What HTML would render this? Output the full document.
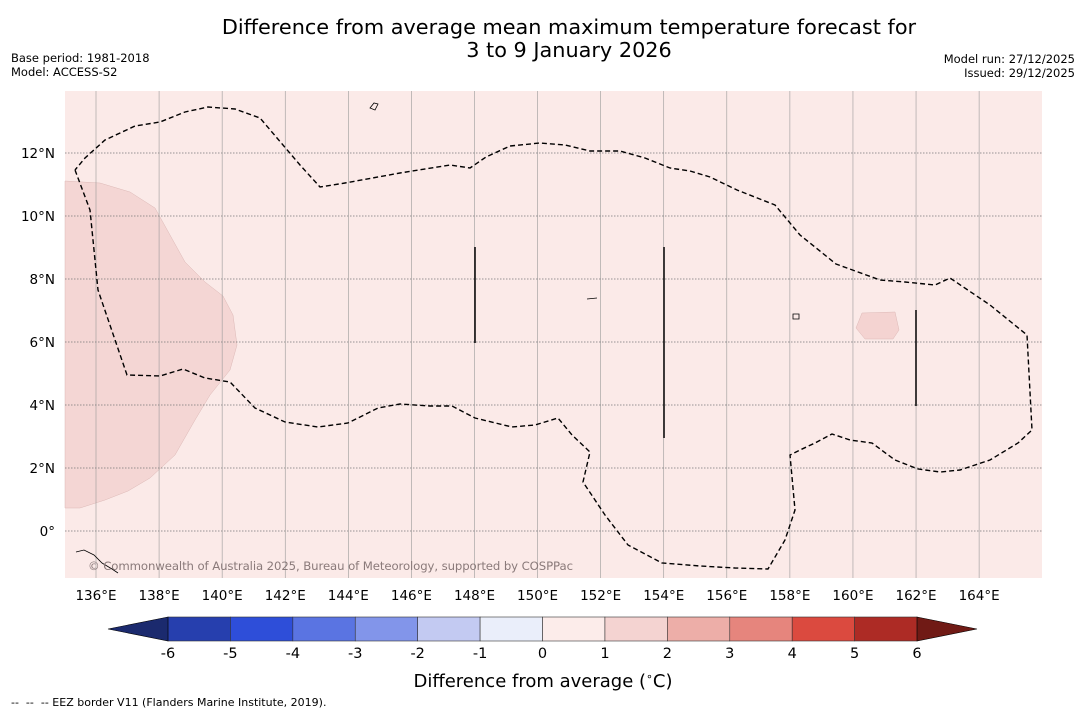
<!DOCTYPE html>
<html><head><meta charset="utf-8"><style>
body{margin:0;background:#fff;font-family:"DejaVu Sans","Liberation Sans",sans-serif;}
svg text{font-family:"DejaVu Sans","Liberation Sans",sans-serif;}
</style></head><body>
<svg id="chart" width="1085" height="713" xmlns="http://www.w3.org/2000/svg">
<text x="569" y="34" font-size="20.8" text-anchor="middle">Difference from average mean maximum temperature forecast for</text>
<text x="569" y="57" font-size="20.8" text-anchor="middle">3 to 9 January 2026</text>
<text x="11" y="62" font-size="11.5">Base period: 1981-2018</text>
<text x="11" y="76" font-size="11.5">Model: ACCESS-S2</text>
<text x="1075" y="63" font-size="11.5" text-anchor="end">Model run: 27/12/2025</text>
<text x="1075" y="77" font-size="11.5" text-anchor="end">Issued: 29/12/2025</text>
<g id="map"></g>
<g id="cbar"></g>
<text x="543" y="687" font-size="18" text-anchor="middle">Difference from average (<tspan font-size="11" dy="-7">∘</tspan><tspan dy="7">C)</tspan></text>
<text x="11" y="706" font-size="11" xml:space="preserve">--  --  -- EEZ border V11 (Flanders Marine Institute, 2019).</text>
</svg>
<script>
const lonTicks=[136,138,140,142,144,146,148,150,152,154,156,158,160,162,164];
const latTicks=[0,2,4,6,8,10,12];
const cbarLevels=[-6,-5,-4,-3,-2,-1,0,1,2,3,4,5,6];
const cbarColors=["#263fae","#2e4ed9","#5a74e2","#8295ea","#c3caf2","#eaeefa","#fcecea","#f4d3d1","#edaea8","#e6857d","#db4a3f","#ad2b25"];
const eezPx=[[75,170],[90,210],[98,290],[127,375],[160,376],[183,369],[205,378],[230,382],[255,408],[285,422],[318,427],[348,423],[378,408],[400,404],[430,406],[452,406],[475,418],[512,427],[535,425],[558,418],[572,435],[590,452],[583,482],[605,515],[628,545],[662,563],[700,566],[735,568],[768,569],[785,540],[795,510],[790,455],[800,450],[815,443],[832,434],[850,440],[872,443],[895,460],[918,469],[940,472],[960,470],[990,460],[1018,443],[1032,430],[1027,335],[990,305],[950,278],[935,285],[905,282],[880,280],[836,264],[800,235],[775,205],[737,190],[710,177],[690,171],[670,168],[645,158],[620,151],[590,151],[565,145],[540,143],[510,146],[486,157],[470,168],[450,165],[400,173],[345,183],[320,187],[300,165],[260,118],[235,109],[208,107],[185,112],[160,122],[135,126],[105,140],[85,158],[75,170]];
const warmPx=[[65,181],[100,183],[130,192],[155,208],[170,235],[185,262],[205,282],[223,296],[233,315],[237,345],[230,370],[210,395],[195,420],[175,455],[150,478],[128,491],[105,500],[80,508],[65,508]];
const patchPx=[[862,313],[895,312],[899,330],[893,339],[865,339],[856,328]];
const NS="http://www.w3.org/2000/svg";
const X=lon=>96+(lon-136)*31.54, Y=lat=>531-lat*31.5;
const CX=v=>168+(v+6)*62.42;
function mk(p,t,a){const e=document.createElementNS(NS,t);for(const k in a)e.setAttribute(k,a[k]);p.appendChild(e);return e;}
const map=document.getElementById('map');
let e=mk(map,'rect',{x:65,y:91,width:977,height:487,fill:'#fbeae8'});


e=mk(map,'polygon',{points:warmPx.join(' '),fill:'#f4d6d4',stroke:'#dcb8b6','stroke-width':0.5});


e=mk(map,'polygon',{points:patchPx.join(' '),fill:'#f4d3d1',stroke:'#dcb8b6','stroke-width':0.5});


lonTicks.forEach(l=>{
 e=mk(map,'line',{x1:X(l),x2:X(l),y1:91,y2:578,stroke:'#999','stroke-width':0.6});
 
 
 e=mk(map,'text',{x:X(l),y:600,'font-size':13.5,'text-anchor':'middle'});e.textContent=l+'°E';
 
 
});
latTicks.forEach(l=>{
 e=mk(map,'line',{x1:65,x2:1042,y1:Y(l),y2:Y(l),stroke:'#777','stroke-width':0.7,'stroke-dasharray':'1.5,1.5'});
 
 
 e=mk(map,'text',{x:55,y:Y(l)+5,'font-size':13.5,'text-anchor':'end'});e.textContent=l===0?'0°':l+'°N';
 
 
});
e=mk(map,'polyline',{points:eezPx.join(' '),fill:'none',stroke:'#000','stroke-width':1.4,'stroke-dasharray':'5,3'});


[[475,247,343],[664,247,438],[916,310,406]].forEach(v=>{
 e=mk(map,'line',{x1:v[0],x2:v[0],y1:v[1],y2:v[2],stroke:'#000','stroke-width':1.5});
 
 
});
e=mk(map,'path',{d:'M76,552 l8,-2 l10,5 l8,8 l10,6 l6,4 M370,108 l4,-5 l4,1 l-3,6 z M587,299 l10,-1 M793,314 l6,0 l0,5 l-6,0z',fill:'none',stroke:'#000','stroke-width':0.8});


e=mk(map,'text',{x:88,y:570,'font-size':11.7,fill:'#8a7a7a',textLength:485});e.textContent='© Commonwealth of Australia 2025, Bureau of Meteorology, supported by COSPPac';


const cb=document.getElementById('cbar');
for(let i=0;i<cbarColors.length;i++){
 e=mk(cb,'rect',{x:CX(cbarLevels[i]),y:617,width:CX(cbarLevels[i+1])-CX(cbarLevels[i]),height:24,fill:cbarColors[i],stroke:'#333','stroke-width':0.6});
 
 
}
e=mk(cb,'polygon',{points:`${CX(-6)},617 108,629 ${CX(-6)},641`,fill:'#1b2a6e',stroke:'#000','stroke-width':0.6});


e=mk(cb,'polygon',{points:`${CX(6)},617 977,629 ${CX(6)},641`,fill:'#701a15',stroke:'#000','stroke-width':0.6});


cbarLevels.forEach(v=>{
 e=mk(cb,'text',{x:CX(v),y:658,'font-size':14.5,'text-anchor':'middle'});e.textContent=v;
 
 
});
</script>
</body></html>
